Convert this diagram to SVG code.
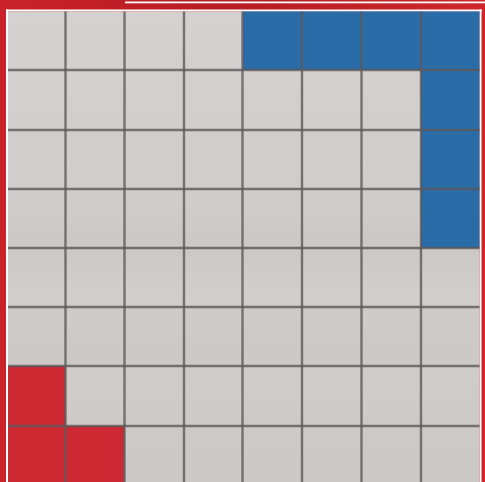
<svg xmlns="http://www.w3.org/2000/svg" width="485" height="482" viewBox="0 0 485 482">
  <defs>
    <style>
      .gl { stroke: #5c5959; stroke-width: 2.4; stroke-opacity: 0.8; fill: none; }
      .blue { fill: #2a6ca8; }
      .red { fill: #cc2932; }
      .wl { fill: #ffffff; }
    </style>
    <linearGradient id="floor" x1="0" y1="0" x2="0" y2="1">
      <stop offset="0" stop-color="#d4d2d0"/>
      <stop offset="0.4" stop-color="#cfcdcb"/>
      <stop offset="0.5" stop-color="#cbc8c6"/>
      <stop offset="0.6" stop-color="#d1cecc"/>
      <stop offset="1" stop-color="#cbc8c6"/>
    </linearGradient>
    <linearGradient id="outer" x1="0" y1="0" x2="1" y2="0">
      <stop offset="0" stop-color="#c9222a"/>
      <stop offset="0.5" stop-color="#b81c24"/>
      <stop offset="1" stop-color="#cf262c"/>
    </linearGradient>
  </defs>

  <!-- outer red frame -->
  <rect x="0" y="0" width="485" height="482" fill="url(#outer)"/>
  <rect class="wl" x="125" y="1.5" width="360" height="1.8"/>
  <rect class="wl" x="6" y="9.5" width="476" height="2"/>
  <rect class="wl" x="6" y="9.5" width="2" height="473"/>
  <rect class="wl" x="479.5" y="9.5" width="2" height="473"/>

  <!-- floor -->
  <rect x="8" y="11.5" width="471.5" height="471" fill="url(#floor)"/>
  <rect x="8" y="307" width="471.5" height="59" fill="#c6c3c1" fill-opacity="0.3"/>

  <!-- coloured tiles -->
  <g id="blue-tiles">
    <rect class="blue" x="243" y="11.5" width="236.5" height="58.5"/>
    <rect class="blue" x="421" y="70" width="58.5" height="178"/>
  </g>
  <g id="red-tiles">
    <rect class="red" x="8" y="366" width="57.5" height="60"/>
    <rect class="red" x="8" y="426" width="116.5" height="56"/>
  </g>

  <!-- grid lines -->
  <g id="grid" class="gl">
    <line x1="65.5" y1="11.5" x2="65.5" y2="482"/>
    <line x1="124.5" y1="11.5" x2="124.5" y2="482"/>
    <line x1="184" y1="11.5" x2="184" y2="482"/>
    <line x1="242.5" y1="11.5" x2="242.5" y2="482"/>
    <line x1="302" y1="11.5" x2="302" y2="482"/>
    <line x1="361.5" y1="11.5" x2="361.5" y2="482"/>
    <line x1="421" y1="11.5" x2="421" y2="482"/>
    <line x1="8" y1="70" x2="479.5" y2="70"/>
    <line x1="8" y1="130" x2="479.5" y2="130"/>
    <line x1="8" y1="189" x2="479.5" y2="189"/>
    <line x1="8" y1="248" x2="479.5" y2="248"/>
    <line x1="8" y1="307" x2="479.5" y2="307"/>
    <line x1="8" y1="366" x2="479.5" y2="366"/>
    <line x1="8" y1="426" x2="479.5" y2="426"/>
  </g>
</svg>
